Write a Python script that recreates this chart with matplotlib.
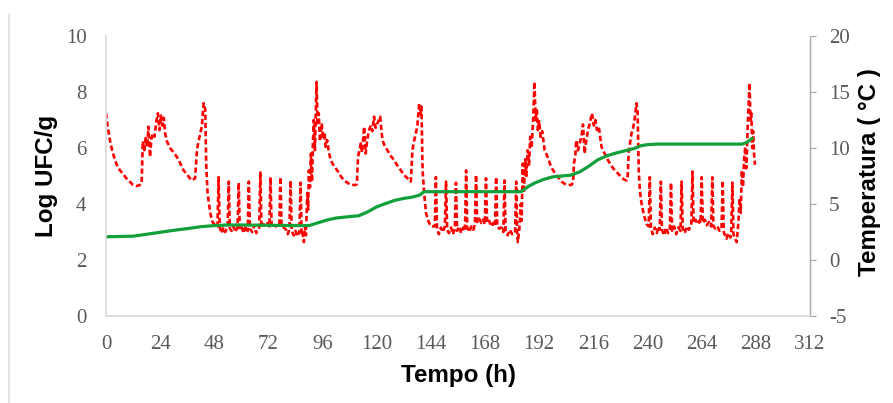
import matplotlib.pyplot as plt
from matplotlib.lines import Line2D

plt.rcParams["axes.unicode_minus"] = False

# Log UFC/g (left axis, green line)
hours_ufc = [0, 6, 12, 18, 24, 30, 36, 42, 48, 54, 60, 72, 84, 90, 94, 98, 102,
             108, 112, 116, 120, 124, 128, 132, 136, 139, 141, 150, 160, 170, 184,
             187, 190, 194, 198, 202, 206, 210, 214, 218, 222, 226, 230, 234, 237,
             240, 244, 260, 282, 284, 286.5]
log_ufc = [2.83, 2.84, 2.85, 2.92, 2.99, 3.06, 3.12, 3.19, 3.23, 3.25, 3.25, 3.24,
           3.23, 3.23, 3.33, 3.43, 3.50, 3.55, 3.58, 3.72, 3.90, 4.02, 4.13, 4.20,
           4.25, 4.32, 4.44, 4.44, 4.44, 4.44, 4.44, 4.62, 4.75, 4.88, 4.97, 5.00,
           5.03, 5.15, 5.35, 5.58, 5.72, 5.82, 5.90, 5.98, 6.08, 6.12, 6.14, 6.14,
           6.14, 6.20, 6.35]

# Temperature (right axis, red dashed line), read segment by segment
h_warm1 = [0, 0.5, 1, 2, 3, 4, 5, 6.2, 7.5, 9, 10.5, 12, 13.5, 15, 15.8, 16.3, 17,
           17.6, 18.2, 18.8, 19.5, 20.1, 20.8, 21.5, 22.3, 23, 23.7, 24.3, 25,
           25.6, 26.2, 27, 28.4, 30, 31.4, 33, 34.4, 36, 38, 39.5, 40.3, 41, 41.8,
           42.5, 43.3, 44, 44.4, 45, 46.2, 47.2]
t_warm1 = [13.1, 12.2, 11.6, 10.4, 9.6, 8.9, 8.4, 8.0, 7.7, 7.3, 7.0, 6.7, 6.6,
           6.7, 6.8, 10.6, 9.8, 10.9, 10.1, 11.9, 9.2, 10.8, 11.3, 11.0, 12.4, 13.1,
           11.6, 12.9, 12.0, 12.7, 11.3, 10.6, 10.0, 9.6, 9.2, 8.6, 8.0, 7.6, 7.1,
           7.3, 9.8, 10.6, 11.3, 12.0, 14.0, 13.4, 8.6, 6.0, 4.2, 3.4]

h_cold1 = [48.4, 49.4, 49.9, 50.4, 51.2, 52.0, 52.8, 53.9, 54.4, 54.9, 55.7, 56.5,
           57.3, 58.3, 58.8, 59.3, 60.2, 61.0, 61.9, 62.8, 63.3, 63.8, 64.8, 65.7,
           66.6, 67.9, 68.4, 68.9, 69.8, 70.7, 71.6, 72.4, 72.9, 73.4, 74.3, 75.2,
           76.0, 76.8, 77.3, 77.8, 78.8, 79.8, 80.6, 81.3, 81.8, 82.3, 83.2, 84.0,
           84.8, 85.7, 86.2, 86.7, 87.0, 87.7]
t_cold1 = [3.1, 3.0, 7.4, 2.9, 2.4, 2.9, 2.5, 3.0, 7.0, 2.8, 2.6, 3.0, 2.5, 2.9,
           6.9, 2.7, 2.9, 2.4, 3.0, 2.6, 7.0, 2.8, 2.5, 3.1, 2.4, 2.9, 7.9, 2.9,
           3.2, 3.0, 3.3, 3.0, 7.4, 3.0, 3.1, 3.0, 3.1, 3.0, 7.4, 3.0, 2.9, 2.7,
           2.3, 2.8, 7.1, 2.6, 2.2, 2.6, 2.1, 2.5, 6.9, 2.4, 2.6, 1.6]

h_warm2 = [88.2, 88.6, 89.2, 89.6, 89.9, 90.4, 90.8, 91.3, 91.7, 92.1, 92.6, 93.3,
           93.8, 94.3, 94.8, 95.1, 95.6, 96.2, 96.8, 97.3, 98, 98.8, 99.6, 101,
           102.5, 104, 105.5, 107, 108.5, 110.7, 111.2, 111.7, 112.3, 112.9, 113.5,
           114.4, 115.1, 115.8, 116.6, 117.3, 118.0, 118.8, 119.5, 120.3, 121.5,
           122.5, 123.5, 124.7, 126.2, 127.7, 129.2, 130.7, 132, 133.6, 135.1,
           135.8, 136.5, 137.3, 138.0, 138.8, 139.4, 139.8, 140.3, 141.0, 141.8,
           143]
t_warm2 = [3.0, 2.2, 6.0, 4.5, 8.0, 6.5, 9.5, 7.0, 10.5, 12.5, 9.8, 15.9, 12.0,
           13.1, 10.6, 11.0, 12.2, 10.8, 11.4, 10.1, 10.7, 9.6, 8.9, 8.4, 8.0, 7.5,
           7.1, 6.9, 6.7, 6.7, 6.8, 9.2, 9.8, 10.4, 9.6, 11.9, 9.5, 10.8, 11.6,
           12.0, 11.5, 12.8, 11.8, 12.2, 12.8, 10.7, 10.2, 9.8, 9.3, 8.9, 8.4, 8.0,
           7.6, 7.3, 7.0, 9.8, 10.6, 11.3, 12.0, 14.0, 13.0, 13.7, 8.0, 6.0, 4.2,
           3.4]

h_cold2 = [144, 145.7, 146.2, 146.7, 147.5, 148.4, 149.3, 150.2, 150.7, 151.2,
           152.0, 152.9, 153.8, 154.6, 155.1, 155.6, 156.5, 157.4, 158.3, 159.1,
           159.6, 160.1, 161.0, 161.9, 162.8, 163.5, 164.0, 164.5, 165.4, 166.3,
           167.1, 167.9, 168.4, 168.9, 169.8, 170.7, 171.6, 172.4, 172.9, 173.4,
           174.3, 175.2, 176.1, 176.6, 177.1, 178.0, 179.0, 180.0, 181.3, 181.8,
           182.2, 182.5]
t_cold2 = [3.0, 3.0, 7.4, 2.8, 2.3, 2.9, 2.5, 3.0, 7.0, 2.7, 2.4, 2.9, 2.3, 2.8,
           6.9, 2.6, 3.0, 2.4, 2.9, 2.6, 8.0, 2.9, 2.5, 3.0, 2.7, 3.2, 7.6, 3.4,
           3.7, 3.3, 3.6, 3.2, 7.3, 3.3, 3.5, 3.0, 3.3, 3.0, 7.4, 3.0, 2.8, 2.9,
           2.5, 7.1, 2.6, 2.2, 2.7, 2.3, 2.4, 7.0, 2.5, 1.6]

h_warm3 = [183.2, 183.8, 184.2, 184.7, 185.2, 185.8, 186.3, 186.9, 187.5, 188.0,
           188.6, 189.3, 189.9, 190.4, 190.9, 191.4, 192, 192.6, 193.3, 194.4,
           195.5, 197.3, 198.8, 200.3, 201.8, 203.3, 204.8, 206.2, 207.0, 207.4,
           208.0, 208.4, 209.2, 210.0, 210.7, 211.4, 212.1, 212.8, 213.6, 214.5,
           215.4, 216.2, 216.9, 217.6, 218.4, 219.6, 221.0, 222.5, 224.0, 225.5,
           227.0, 228.4, 229.5, 230.7, 231.2, 231.7, 232.3, 232.9, 233.6, 234.3,
           235.1, 235.6, 236.1, 236.6, 237.3, 238.4]
t_warm3 = [2.8, 5.0, 3.5, 8.6, 6.0, 9.0, 7.5, 9.8, 8.5, 11.0, 10.0, 12.5, 15.9,
           12.5, 13.5, 11.6, 12.4, 11.0, 11.5, 9.8, 9.3, 8.3, 7.8, 7.4, 7.0, 6.8,
           6.7, 6.7, 6.9, 8.6, 9.4, 10.7, 9.8, 10.5, 11.0, 12.1, 9.5, 10.6, 11.6,
           12.3, 13.1, 12.0, 12.5, 11.6, 11.9, 10.1, 9.5, 8.9, 8.4, 8.0, 7.7, 7.4,
           7.2, 7.1, 7.5, 9.8, 10.5, 11.3, 11.8, 12.6, 14.0, 13.2, 8.0, 6.2, 5.1,
           4.0]

h_cold3 = [239.6, 240.5, 241.0, 241.5, 242.3, 243.2, 244.1, 245.0, 245.4, 245.9,
           246.4, 247.3, 248.2, 249.1, 249.9, 250.4, 250.9, 251.8, 252.7, 253.6,
           254.6, 255.1, 255.6, 256.5, 257.4, 258.3, 259.4, 259.9, 260.4, 261.3,
           262.2, 263.0, 263.5, 264.0, 264.5, 265.4, 266.3, 267.2, 268.2, 268.7,
           269.2, 270.1, 271.0, 271.9, 272.8, 273.3, 273.8, 274.5, 275.0, 275.8,
           276.7, 277.1, 277.6, 278.1, 278.8, 279.5]
t_cold3 = [3.2, 3.0, 7.4, 2.9, 2.3, 2.9, 2.4, 3.0, 2.7, 7.0, 2.7, 2.2, 2.9, 2.4,
           2.8, 6.9, 2.6, 3.0, 2.3, 2.9, 2.6, 7.0, 2.8, 2.4, 3.0, 2.7, 3.1, 7.9,
           3.3, 3.6, 3.2, 3.5, 3.3, 7.4, 3.3, 3.6, 3.1, 3.4, 3.0, 7.4, 3.0, 2.8,
           3.0, 2.6, 2.8, 7.1, 2.5, 2.1, 1.9, 2.4, 2.0, 2.5, 6.9, 2.3, 1.9, 1.6]

h_warm4 = [280.2, 280.8, 281.3, 281.8, 282.3, 282.8, 283.3, 283.8, 284.4, 285.2,
           285.6, 286.0, 286.4, 286.8, 287.2, 287.6]
t_warm4 = [3.2, 5.5, 4.2, 8.0, 6.5, 9.0, 10.1, 8.2, 12.0, 15.8, 12.5, 13.1, 10.0,
           11.5, 9.5, 8.5]

hours_temp = h_warm1 + h_cold1 + h_warm2 + h_cold2 + h_warm3 + h_cold3 + h_warm4
temperature = t_warm1 + t_cold1 + t_warm2 + t_cold2 + t_warm3 + t_cold3 + t_warm4

x_ticks = list(range(0, 313, 24))
left_ticks = [0, 2, 4, 6, 8, 10]
right_ticks = [-5, 0, 5, 10, 15, 20]

tick_font = dict(family="Liberation Serif", size=15)
label_font = dict(family="Liberation Sans", size=17.4, weight="bold")
tick_color = "#595959"
grid_grey = "#d9d9d9"

fig = plt.figure(figsize=(8.93, 4.03), dpi=100)
ax = fig.add_axes([106 / 893, 87 / 403, 704 / 893, 280 / 403])
ax2 = ax.twinx()

# red temperature trace behind, green counts on top
ax2.plot(hours_temp, temperature, color="#ff0000", lw=1.9,
         linestyle=(0, (2.0, 1.1)))
ax.plot(hours_ufc, log_ufc, color="#12a03a", lw=2.3, solid_capstyle="round")
ax.set_zorder(ax2.get_zorder() + 1)
ax.patch.set_visible(False)

ax.set_xlim(0, 312)
ax.set_ylim(0, 10)
ax2.set_ylim(-5, 20)
ax.set_xticks(x_ticks)
ax.set_yticks(left_ticks)
ax2.set_yticks(right_ticks)

for a in (ax, ax2):
    for s in a.spines.values():
        s.set_visible(False)
ax.spines["left"].set_visible(True)
ax.spines["bottom"].set_visible(True)
ax.spines["left"].set_color(grid_grey)
ax.spines["bottom"].set_color(grid_grey)
ax.spines["left"].set_linewidth(1.2)
ax.spines["bottom"].set_linewidth(1.2)
ax2.spines["right"].set_visible(True)
ax2.spines["right"].set_color("#a6a6a6")
ax2.spines["right"].set_linestyle((0, (1, 1)))
ax2.spines["right"].set_linewidth(1.0)

ax.tick_params(axis="x", length=0, pad=14, labelcolor=tick_color)
ax.tick_params(axis="y", length=0, pad=14, labelcolor=tick_color)
ax2.tick_params(axis="y", length=4.5, width=0.8, color="#a6a6a6", pad=9,
                labelcolor=tick_color)
for lab in ax.get_xticklabels() + ax.get_yticklabels() + ax2.get_yticklabels():
    lab.set_fontfamily(tick_font["family"])
    lab.set_fontsize(tick_font["size"])

ax.set_xlabel("Tempo (h)", va="center", **label_font)
ax.xaxis.set_label_coords(0.501, -0.214)
ax.set_ylabel("Log UFC/g", va="center", ha="center", **label_font)
ax.yaxis.set_label_coords(-0.084, 0.5)
ax2.set_ylabel("Temperatura ( °C )", va="center", ha="center", rotation=90,
               **label_font)
ax2.yaxis.set_label_coords(1.084, 0.514)

# faint frame edge on the left of the original picture
fig.add_artist(Line2D([8.5 / 893, 8.5 / 893], [0, 388 / 403],
                      color="#e3e3e3", lw=1.5))

fig.savefig("out.png", dpi=100)
